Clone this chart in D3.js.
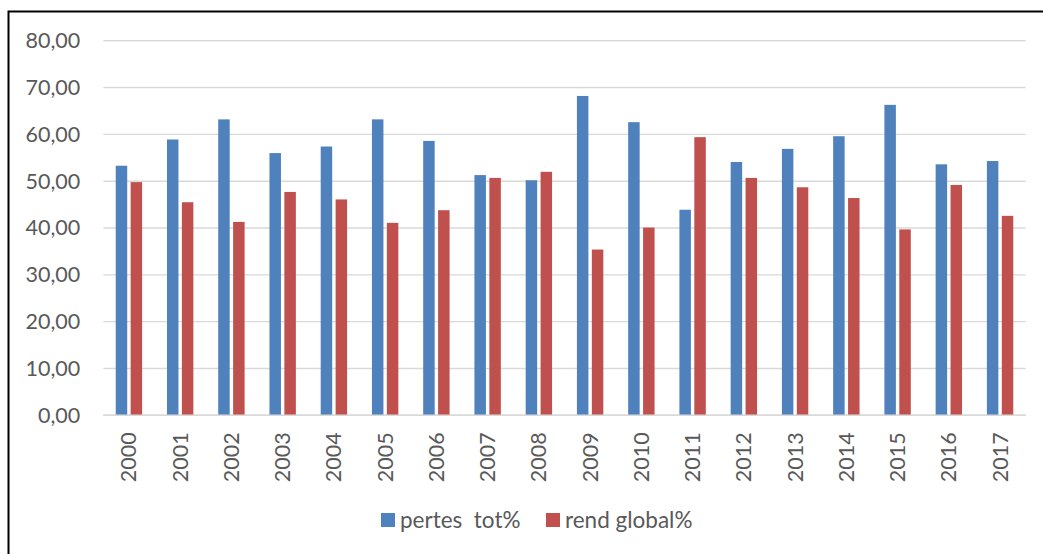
<!DOCTYPE html>
<html>
<head>
<meta charset="utf-8">
<script src="https://cdn.jsdelivr.net/npm/d3@7"></script>
<style>
  html, body { margin: 0; padding: 0; background: #fff; }
  svg { display: block; }
  text { font-family: Lato, "Open Sans", "Liberation Sans", sans-serif; fill: #595959; }
</style>
</head>
<body>
<svg id="chart" width="1043" height="554"></svg>
<script>
// Years on the category axis
const years = ["2000","2001","2002","2003","2004","2005","2006","2007","2008",
               "2009","2010","2011","2012","2013","2014","2015","2016","2017"];

// Series values (%)
const pertesTot = [53.3, 58.9, 63.2, 56.0, 57.4, 63.2, 58.6, 51.3, 50.2,
                   68.2, 62.6, 43.9, 54.1, 56.9, 59.6, 66.3, 53.6, 54.3];
const rendGlobal = [49.8, 45.5, 41.3, 47.7, 46.1, 41.1, 43.8, 50.7, 52.0,
                    35.4, 40.1, 59.4, 50.7, 48.7, 46.4, 39.7, 49.2, 42.6];

const seriesNames = ["pertes  tot%", "rend global%"];
const seriesColors = ["#4f81bd", "#c0504d"];
const yTicks = [0, 10, 20, 30, 40, 50, 60, 70, 80];

const svg = d3.select("#chart");

// Outer frame of the chart area
svg.append("rect")
  .attr("x", 8.5).attr("y", 11.5)
  .attr("width", 1100).attr("height", 600)
  .attr("fill", "none").attr("stroke", "#000").attr("stroke-width", 2);

const plot = { left: 103.3, right: 1025.7, top: 40.7, bottom: 415.3 };

const y = d3.scaleLinear().domain([0, 80]).range([plot.bottom, plot.top]);

const x0 = d3.scaleBand().domain(years)
  .range([plot.left, plot.right])
  .paddingInner(0.485).paddingOuter(0.2425);

const x1 = d3.scaleBand().domain(seriesNames)
  .range([0, x0.bandwidth()])
  .paddingInner(0.23);

// Horizontal gridlines
svg.append("g")
  .selectAll("line")
  .data(yTicks)
  .join("line")
  .attr("x1", plot.left).attr("x2", plot.right)
  .attr("y1", d => y(d)).attr("y2", d => y(d))
  .attr("stroke", "#d9d9d9").attr("stroke-width", 1.4);

// Y axis labels
const fmt = d => d.toFixed(2).replace(".", ",");
const yAxis = d3.axisLeft(y).tickValues(yTicks).tickFormat(fmt).tickSize(0).tickPadding(23);
const yG = svg.append("g").attr("transform", `translate(${plot.left},0)`).call(yAxis);
yG.select(".domain").remove();
yG.selectAll("text")
  .attr("font-size", 21.5)
  .attr("fill", "#595959")
  .style("font-family", "Lato, 'Open Sans', sans-serif");

// Bars
const rows = years.map((yr, i) => ({ year: yr, values: [pertesTot[i], rendGlobal[i]] }));
const groups = svg.append("g").selectAll("g")
  .data(rows)
  .join("g")
  .attr("transform", d => `translate(${x0(d.year)},0)`);

groups.selectAll("rect")
  .data(d => d.values.map((v, j) => ({ name: seriesNames[j], value: v, color: seriesColors[j] })))
  .join("rect")
  .attr("x", d => x1(d.name))
  .attr("width", x1.bandwidth())
  .attr("y", d => y(d.value))
  .attr("height", d => y(0) - y(d.value))
  .attr("fill", d => d.color);

// X axis labels, rotated
const xAxis = d3.axisBottom(x0).tickSize(0).tickPadding(0);
const xG = svg.append("g").attr("transform", `translate(0,${plot.bottom})`).call(xAxis);
xG.select(".domain").remove();
xG.selectAll("text")
  .attr("font-size", 21.5)
  .attr("fill", "#595959")
  .style("font-family", "Lato, 'Open Sans', sans-serif")
  .attr("transform", "rotate(-90)")
  .attr("x", -17).attr("y", 0)
  .attr("dy", "0.35em")
  .attr("text-anchor", "end");

// Baseline
svg.append("line")
  .attr("x1", plot.left).attr("x2", plot.right)
  .attr("y1", y(0)).attr("y2", y(0))
  .attr("stroke", "#d9d9d9").attr("stroke-width", 1.4);

// Legend
const legendItems = [
  { name: seriesNames[0], color: seriesColors[0], x: 381 },
  { name: seriesNames[1], color: seriesColors[1], x: 546 }
];
const lg = svg.append("g").selectAll("g").data(legendItems).join("g")
  .attr("transform", d => `translate(${d.x},513)`);
lg.append("rect").attr("width", 14).attr("height", 14).attr("fill", d => d.color);
lg.append("text")
  .attr("x", 19).attr("y", 15)
  .attr("font-size", 22.5)
  .style("white-space", "pre")
  .text(d => d.name);
</script>
</body>
</html>
